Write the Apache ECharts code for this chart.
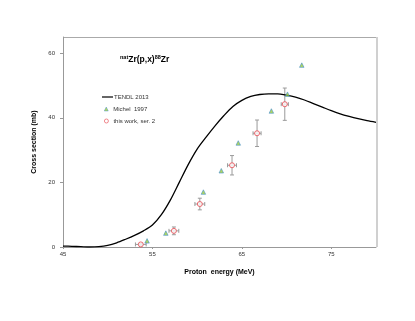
<!DOCTYPE html>
<html>
<head>
<meta charset="utf-8">
<script src="https://cdn.jsdelivr.net/npm/echarts@6/dist/echarts.min.js"></script>
<style>
  html, body { margin: 0; padding: 0; background: #fff; }
  #chart { width: 415px; height: 321px; }
</style>
</head>
<body>
<div id="chart"></div>
<script>
// TENDL 2013 curve
var tendlE = [45, 46, 47, 48, 49, 50, 51, 52, 53, 54, 55, 56, 57, 58, 59, 60, 61, 62, 63, 64, 65, 66, 67, 68, 69, 70, 71, 72, 73, 74, 75, 76, 77, 78, 79, 80];
var tendlCs = [0.3, 0.2, 0.1, 0, 0.1, 0.5, 1.3, 2.4, 3.6, 5.0, 6.8, 10.0, 14.5, 20.0, 25.5, 30.3, 34.0, 37.5, 40.7, 43.5, 45.4, 46.6, 47.2, 47.4, 47.4, 47.0, 46.4, 45.5, 44.4, 43.3, 42.2, 41.2, 40.4, 39.7, 39.1, 38.6];

// Michel 1997
var michelE = [54.4, 56.5, 60.7, 62.7, 64.6, 68.3, 70.1, 71.7];
var michelCs = [1.9, 4.3, 17.0, 23.6, 32.2, 42.1, 47.3, 56.3];

// this work, ser. 2
var workE = [53.7, 57.4, 60.3, 63.9, 66.7, 69.8];
var workCs = [0.8, 5.0, 13.3, 25.3, 35.2, 44.2];
var workDE = [0.6, 0.55, 0.55, 0.5, 0.45, 0.4];
var workDCs = [0.3, 1.2, 1.8, 3.0, 4.1, 5.0];

var xTicks = [45, 55, 65, 75];
var yTicks = [0, 20, 40, 60];

var chart = echarts.init(document.getElementById('chart'));

function pairs(xs, ys) {
  return xs.map(function (x, i) { return [x, ys[i]]; });
}

var errData = workE.map(function (e, i) {
  return [e, workCs[i], workDE[i], workDCs[i]];
});

var legendText = { fontSize: 6, color: '#333', fontFamily: 'Liberation Sans' };

var option = {
  backgroundColor: '#fff',
  animation: false,
  title: {
    text: '{sup|nat}{b|Zr(p,x)}{sup|88}{b|Zr}',
    left: 120,
    top: 54,
    padding: 0,
    textStyle: {
      rich: {
        b: { fontSize: 8.5, fontFamily: 'Liberation Sans', color: '#000', fontWeight: 'bold' },
        sup: { fontSize: 5.5, fontFamily: 'Liberation Sans', color: '#000', fontWeight: 'bold', verticalAlign: 'top', padding: [0, 0, 5, 0] }
      }
    }
  },
  legend: [
    {
      left: 102, top: 94, padding: 0, itemWidth: 11, itemHeight: 1.5,
      textStyle: Object.assign({ padding: [0, 0, 0, -4] }, legendText),
      data: [{ name: 'TENDL 2013', icon: 'rect', itemStyle: { color: '#333' } }]
    },
    {
      left: 104, top: 106, padding: 0, itemWidth: 4, itemHeight: 4,
      textStyle: legendText,
      data: [{ name: 'Michel  1997', icon: 'triangle', itemStyle: { borderWidth: 0.5 } }]
    },
    {
      left: 104, top: 118, padding: 0, itemWidth: 4, itemHeight: 4,
      textStyle: legendText,
      data: [{ name: 'this work, ser. 2', icon: 'circle', itemStyle: { borderWidth: 0.8 } }]
    }
  ],
  grid: { left: 63, right: 39, top: 37, bottom: 74 },
  xAxis: {
    type: 'value',
    min: 45,
    max: 80,
    interval: 10,
    name: 'Proton  energy (MeV)',
    nameLocation: 'middle',
    nameGap: 22,
    nameTextStyle: { fontSize: 7, fontWeight: 'bold', color: '#000', fontFamily: 'Liberation Sans' },
    axisLine: { lineStyle: { color: '#999', width: 1 } },
    axisTick: { show: true, length: 2, lineStyle: { color: '#999' } },
    axisLabel: {
      fontSize: 6, color: '#333', margin: 4, fontFamily: 'Liberation Sans',
      showMaxLabel: false,
      formatter: function (v) { return xTicks.indexOf(v) >= 0 ? v : ''; }
    },
    splitLine: { show: false }
  },
  yAxis: {
    type: 'value',
    min: 0,
    max: 65,
    interval: 20,
    name: 'Cross section (mb)',
    nameLocation: 'middle',
    nameGap: 19,
    nameTextStyle: { fontSize: 7, fontWeight: 'bold', color: '#000', fontFamily: 'Liberation Sans' },
    axisLine: { show: true, lineStyle: { color: '#999', width: 1 } },
    axisTick: { show: true, length: 3, lineStyle: { color: '#999' } },
    axisLabel: {
      fontSize: 6, color: '#333', margin: 8, fontFamily: 'Liberation Sans',
      showMaxLabel: false,
      formatter: function (v) { return yTicks.indexOf(v) >= 0 ? v : ''; }
    },
    splitLine: { show: false }
  },
  series: [
    {
      name: 'TENDL 2013',
      type: 'line',
      smooth: 0.3,
      symbol: 'none',
      lineStyle: { color: '#000', width: 1.3 },
      itemStyle: { color: '#000' },
      data: pairs(tendlE, tendlCs),
      z: 3
    },
    {
      name: 'error bars',
      type: 'custom',
      silent: true,
      z: 2,
      renderItem: function (params, api) {
        var x = api.value(0), y = api.value(1), dx = api.value(2), dy = api.value(3);
        var t = api.coord([x, y + dy]), b = api.coord([x, y - dy]);
        var l = api.coord([x - dx, y]), r = api.coord([x + dx, y]);
        var cap = 2;
        var st = { stroke: '#9a9a9a', lineWidth: 1 };
        return {
          type: 'group',
          children: [
            { type: 'line', shape: { x1: t[0], y1: t[1], x2: b[0], y2: b[1] }, style: st },
            { type: 'line', shape: { x1: t[0] - cap, y1: t[1], x2: t[0] + cap, y2: t[1] }, style: st },
            { type: 'line', shape: { x1: b[0] - cap, y1: b[1], x2: b[0] + cap, y2: b[1] }, style: st },
            { type: 'line', shape: { x1: l[0], y1: l[1], x2: r[0], y2: r[1] }, style: st },
            { type: 'line', shape: { x1: l[0], y1: l[1] - cap, x2: l[0], y2: l[1] + cap }, style: st },
            { type: 'line', shape: { x1: r[0], y1: r[1] - cap, x2: r[0], y2: r[1] + cap }, style: st }
          ]
        };
      },
      data: errData
    },
    {
      name: 'Michel  1997',
      type: 'scatter',
      symbol: 'triangle',
      symbolSize: 4.5,
      itemStyle: { color: '#9ccc3a', borderColor: '#3a88d0', borderWidth: 0.7 },
      data: pairs(michelE, michelCs),
      z: 4
    },
    {
      name: 'this work, ser. 2',
      type: 'scatter',
      symbol: 'circle',
      symbolSize: 5,
      itemStyle: { color: '#fff', borderColor: '#e8474f', borderWidth: 1 },
      data: pairs(workE, workCs),
      z: 5
    }
  ],
  graphic: [
    { type: 'line', shape: { x1: 63, y1: 37.5, x2: 376, y2: 37.5 }, style: { stroke: '#aaa', lineWidth: 1 } },
    { type: 'line', shape: { x1: 377, y1: 37, x2: 377, y2: 247 }, style: { stroke: '#d0d0d0', lineWidth: 2 } }
  ]
};

chart.setOption(option);
window.onresize = chart.resize;
</script>
</body>
</html>
